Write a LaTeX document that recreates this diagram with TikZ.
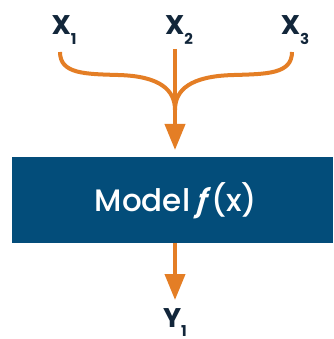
\documentclass[tikz,border=0pt]{standalone}
\usepackage{fontspec}
\setmainfont{Poppins}
\newfontfamily\medfont{Poppins}[UprightFont=* Medium,BoldFont=* SemiBold]
\usetikzlibrary{arrows.meta}
\definecolor{boxblue}{HTML}{034D7A}
\definecolor{arrorange}{HTML}{E47E25}
\definecolor{navy}{HTML}{12263A}
\begin{document}
\begin{tikzpicture}[x=1pt,y=-1pt,
  lbl/.style={inner sep=0pt,text=navy,font=\fontsize{27}{27}\selectfont\bfseries},
  flow/.style={draw=arrorange,line width=4pt},
  tip/.style={-{Triangle[width=20pt,length=26pt]}}]
\useasboundingbox (0,0) rectangle (333,339);
\node[lbl] (x1) at (64,30) {X\raisebox{-10pt}{\fontsize{15}{15}\selectfont 1}};
\node[lbl] (x2) at (179,30) {X\raisebox{-10pt}{\fontsize{15}{15}\selectfont 2}};
\node[lbl] (x3) at (295,30) {X\raisebox{-10pt}{\fontsize{15}{15}\selectfont 3}};
\node[fill=boxblue,minimum width=321pt,minimum height=86pt,inner sep=0pt,anchor=north west] (m) at (12,157) {};
\node[text=white,font=\medfont\fontsize{31}{31}\selectfont,inner sep=0pt] (mt) at (176,201) {Model \textbf{\textit{ƒ}}(x)};
\node[lbl] (y1) at (175,323) {Y\raisebox{-9pt}{\fontsize{15}{15}\selectfont 1}};
\coordinate (s1) at (60,52);
\coordinate (s2) at (175,49);
\coordinate (s3) at (292,52);
\coordinate (j) at (175,110);
\coordinate (t1) at (175,150);
\coordinate (t2) at (175,300);
\draw[flow] (s1) .. controls (60,74) and (85,74) .. (118,75) .. controls (160,76) and (175,90) .. (j);
\draw[flow] (s3) .. controls (292,74) and (267,74) .. (234,75) .. controls (190,76) and (175,90) .. (j);
\draw[flow,tip] (s2) -- (t1);
\draw[flow,tip] (m.south -| t2) -- (t2);
\end{tikzpicture}
\end{document}
